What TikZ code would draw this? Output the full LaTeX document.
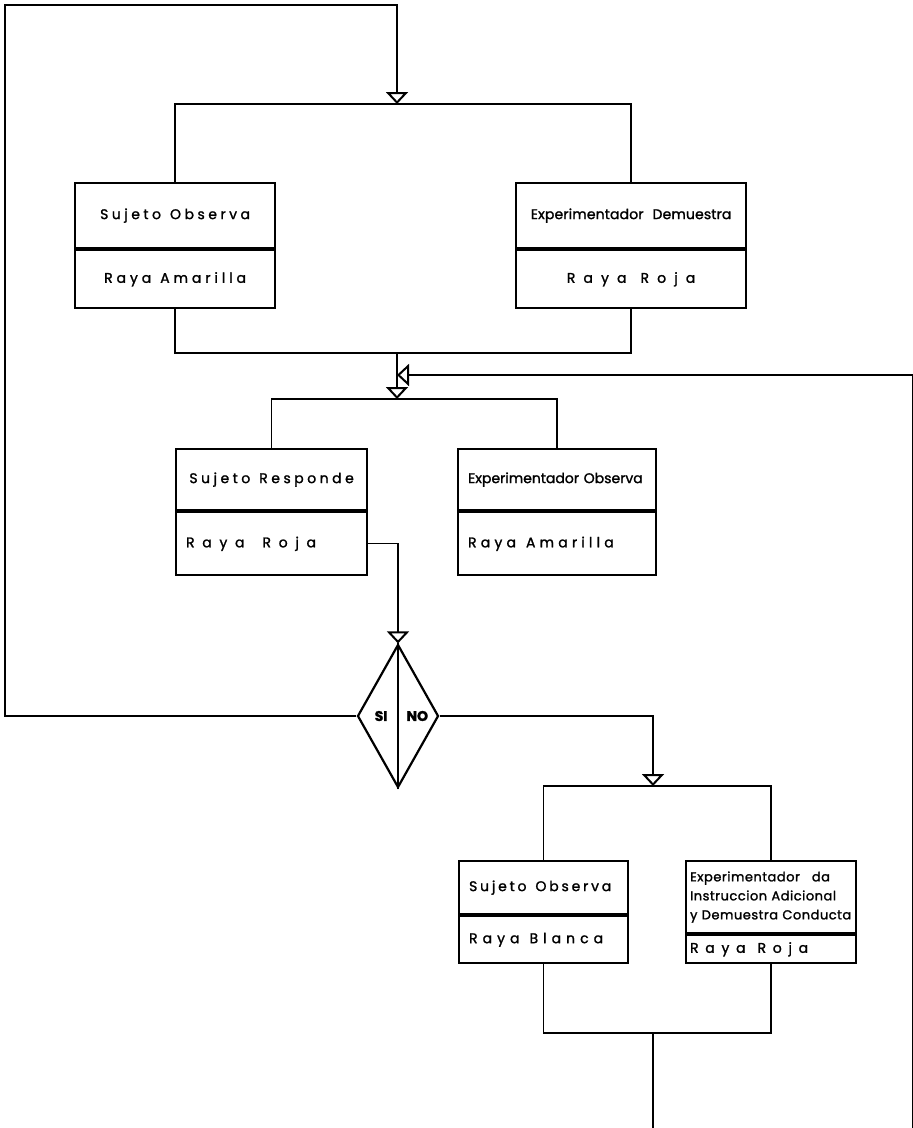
\documentclass[tikz,border=0pt]{standalone}
\usepackage{fontspec}
\setmainfont{Poppins}[FakeBold=1.5]
\usetikzlibrary{arrows.meta,positioning,shapes.geometric}

\newcommand{\spaced}[2]{{\addfontfeature{LetterSpace=#1}#2}}
\newcommand{\gap}[1]{\hspace{#1pt}}

\tikzset{
  upper/.style={draw, line width=2.2pt, inner xsep=10pt, inner ysep=0pt, anchor=north west,
    font=\fontsize{14}{16}\selectfont},
  lower/.style={draw, line width=2.2pt, inner xsep=10pt, inner ysep=0pt,
    font=\fontsize{14}{16}\selectfont},
  link/.style={line width=1.3pt},
  merge/.style={link, -{Triangle[open, width=22pt, length=12pt, line width=2pt]}},
}

\begin{document}
\begin{tikzpicture}[x=1pt,y=-1pt]
    \useasboundingbox (0,0) rectangle (913,1128);
    % junction points on the bars
    \coordinate (tl) at (5,5);
    \coordinate (j1) at (397,104);
    \coordinate (j2) at (397,353);
    \coordinate (jb) at (397,375);
    \coordinate (j3) at (397,399);
    \coordinate (j4) at (653,786);
    \coordinate (j5) at (653,1033);
    \coordinate (out) at (653,1128);
    \coordinate (back) at (913,1128);

    % first pair
    \node[upper, text width=180pt, minimum height=65pt, align=center] (so) at (74,182) {\spaced{25}{Sujeto\gap{9}Observa}};
    \node[lower, text width=180pt, minimum height=58pt, align=center, below=0pt of so] (ra) {\spaced{28}{Raya\gap{9}Amarilla}};
    \node[upper, text width=210pt, minimum height=65pt, align=center] (ed) at (515,182) {\spaced{1}{Experimentador\gap{9}Demuestra}};
    \node[lower, text width=210pt, minimum height=58pt, align=center, below=0pt of ed] (rr) {\spaced{58}{Raya\gap{14}Roja}};

    % second pair
    \node[upper, text width=171pt, minimum height=61pt, align=center] (sr) at (175,448) {\spaced{25}{Sujeto\gap{9}Responde}};
    \node[lower, text width=171pt, minimum height=63pt, align=left, below=0pt of sr] (rr2) {\spaced{55}{Raya\gap{18}Roja}};
    \node[upper, text width=178pt, minimum height=61pt, align=left] (eo) at (457,448) {Experimentador Observa};
    \node[lower, text width=178pt, minimum height=63pt, align=left, below=0pt of eo] (ra2) {\spaced{30}{Raya\gap{10}Amarilla}};

    % decision
    \node[diamond, draw, line width=2.2pt, minimum width=81pt, minimum height=143pt, inner sep=0pt] (dec) at (398,716) {};
    \draw[line width=2.2pt] (dec.north) -- (dec.south);
    \node[left=7pt of dec.center, font=\fontsize{14}{16}\selectfont\bfseries] (si) {SI};
    \node[right=5pt of dec.center, font=\fontsize{14}{16}\selectfont\bfseries] (no) {NO};

    % third pair
    \node[upper, text width=149pt, minimum height=53pt, align=left] (sb) at (458,860) {\spaced{20}{Sujeto\gap{9}Observa}};
    \node[lower, text width=149pt, minimum height=47pt, align=left, below=0pt of sb] (rb) {\spaced{36}{Raya\gap{10}Blanca}};
    \node[upper, text width=162pt, minimum height=72pt, align=left, inner xsep=4pt,
      font=\fontsize{13}{19}\selectfont] (ei) at (685,860) {\spaced{4}{Experimentador\gap{12}da\\Instruccion Adicional\\y Demuestra Conducta}};
    \node[lower, text width=162pt, minimum height=28pt, align=left, inner xsep=4pt, below=0pt of ei] (rr3) {\spaced{48}{Raya\gap{12}Roja}};

    % connectors
    \draw[merge] (dec.west) -| (tl) -| (j1);
    \draw[link] (so.north) |- (j1) -| (ed.north);
    \draw[link] (ra.south) |- (j2) -| (rr.south);
    \draw[merge] (j2) -- (j3);
    \draw[merge] (back) |- (jb);
    \draw[link] (sr.north) |- (j3) -| (eo.north);
    \draw[merge] (rr2.east) -| (dec.north);
    \draw[merge] (dec.east) -| (j4);
    \draw[link] (sb.north) |- (j4) -| (ei.north);
    \draw[link] (rb.south) |- (j5) -| (rr3.south);
    \draw[link] (j5) -- (out);
\end{tikzpicture}
\end{document}
